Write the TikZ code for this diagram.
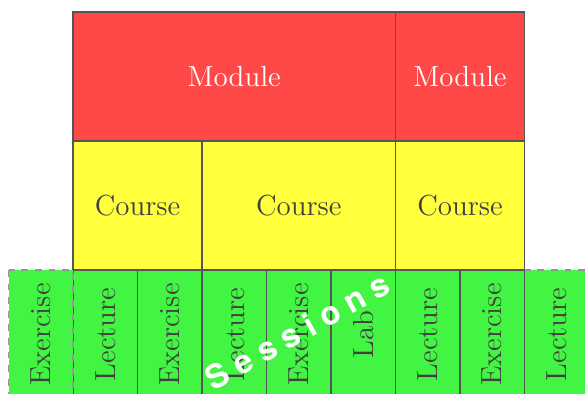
\documentclass[tikz,border=0pt]{standalone}
\usepackage{fontspec}
\newfontfamily\herosfont{TeX Gyre Heros}
\definecolor{modred}{RGB}{255,72,72}
\definecolor{courseyellow}{RGB}{255,255,60}
\definecolor{sessgreen}{RGB}{66,245,66}
\definecolor{edgegray}{RGB}{85,85,85}
\definecolor{dashgray}{RGB}{150,150,150}
\definecolor{txtgray}{RGB}{64,64,64}
\tikzset{
  cellbox/.style={draw=edgegray, line width=0.5pt, inner sep=0pt, outer sep=0pt,
    font=\fontsize{12.8}{15}\selectfont},
  modbox/.style={cellbox, fill=modred, text=white, minimum height=2cm},
  coursebox/.style={cellbox, fill=courseyellow, text=txtgray, minimum height=2cm},
  sessbox/.style={cellbox, fill=sessgreen, text=txtgray, rotate=90,
    minimum width=2cm, minimum height=1cm},
  ghostbox/.style={sessbox, draw=dashgray, dashed},
  sessionslabel/.style={text=white, rotate=29, inner sep=0pt,
    font=\fontsize{14.5}{17}\selectfont\herosfont\bfseries}
}
\newcommand{\gp}{\hspace{3.8pt}}
\begin{document}
\begin{tikzpicture}
\useasboundingbox (-1.132,-1.922) rectangle (7.938,4.186);
\clip (-1.132,-1.922) rectangle (7.938,4.186);
% modules
\node[modbox, minimum width=5cm] (m1) at (2.5,3) {Module};
\node[modbox, minimum width=2cm] (m2) at (6,3) {Module};
% courses
\node[coursebox, minimum width=2cm] (c1) at (1,1) {Course};
\node[coursebox, minimum width=3cm] (c2) at (3.5,1) {Course};
\node[coursebox, minimum width=2cm] (c3) at (6,1) {Course};
% sessions
\node[ghostbox] (s9) at (7.5,-1) {Lecture};
\node[sessbox] (s1) at (0.5,-1) {Lecture};
\node[sessbox] (s2) at (1.5,-1) {Exercise};
\node[sessbox] (s3) at (2.5,-1) {Lecture};
\node[sessbox] (s4) at (3.5,-1) {Exercise};
\node[sessbox] (s5) at (4.5,-1) {Lab};
\node[sessbox] (s6) at (5.5,-1) {Lecture};
\node[sessbox] (s7) at (6.5,-1) {Exercise};
\node[ghostbox] (s0) at (-0.5,-1) {Exercise};
% label
\node[sessionslabel] (st) at (3.48,-0.946) {S\gp e\gp s\gp s\gp i\gp o\gp n\gp s};
\end{tikzpicture}
\end{document}
